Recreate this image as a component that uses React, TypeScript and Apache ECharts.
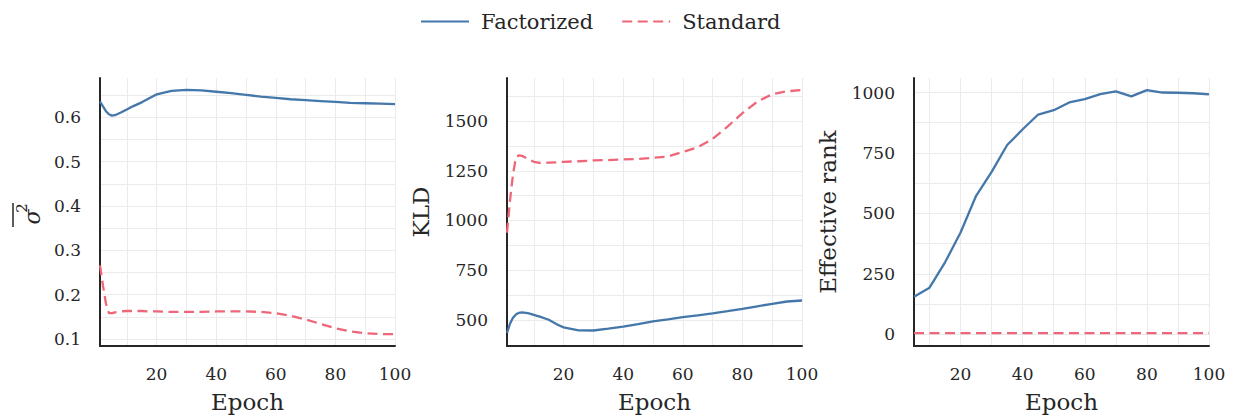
import React, { useEffect, useRef } from "react";
import * as echarts from "echarts";

const EPOCHS = [1, 2, 3, 4, 5, 6, 8, 10, 12, 15, 18, 20, 25, 30, 35, 40, 45, 50, 55, 60, 65, 70, 75, 80, 85, 90, 95, 100];
const SIGMA_FACT = [0.636, 0.625, 0.614, 0.607, 0.604, 0.605, 0.611, 0.618, 0.625, 0.634, 0.645, 0.652, 0.66, 0.662, 0.661, 0.658, 0.655, 0.651, 0.647, 0.644, 0.641, 0.639, 0.637, 0.635, 0.633, 0.632, 0.631, 0.63];
const SIGMA_STD = [0.266, 0.22, 0.18, 0.158, 0.158, 0.16, 0.162, 0.163, 0.163, 0.163, 0.162, 0.162, 0.161, 0.161, 0.161, 0.162, 0.162, 0.162, 0.161, 0.158, 0.152, 0.144, 0.134, 0.124, 0.117, 0.113, 0.111, 0.111];
const KLD_FACT = [434, 480, 510, 527, 535, 537, 533, 525, 516, 500, 475, 462, 447, 446, 455, 465, 478, 492, 502, 513, 522, 532, 543, 555, 568, 580, 592, 597];
const KLD_STD = [938, 1100, 1230, 1318, 1328, 1325, 1310, 1295, 1290, 1291, 1293, 1295, 1298, 1302, 1304, 1307, 1310, 1315, 1322, 1345, 1368, 1410, 1472, 1540, 1598, 1635, 1650, 1657];
const RANK_EPOCHS = [5, 10, 15, 20, 25, 30, 35, 40, 45, 50, 55, 60, 65, 70, 75, 80, 85, 90, 95, 100];
const RANK_FACT = [156, 193, 298, 421, 573, 672, 783, 848, 909, 927, 959, 973, 993, 1005, 984, 1010, 1000, 999, 997, 992];
const RANK_STD = [5, 5, 5, 5, 5, 5, 5, 5, 5, 5, 5, 5, 5, 5, 5, 5, 5, 5, 5, 5];

const X_LABELS = [20, 40, 60, 80, 100];
const X_GRID = [10, 20, 30, 40, 50, 60, 70, 80, 90, 100];
const SIGMA_LABELS = [0.1, 0.2, 0.3, 0.4, 0.5, 0.6];
const SIGMA_GRID = [0.1, 0.15, 0.2, 0.25, 0.3, 0.35, 0.4, 0.45, 0.5, 0.55, 0.6, 0.65];
const KLD_LABELS = [500, 750, 1000, 1250, 1500];
const KLD_GRID = [500, 625, 750, 875, 1000, 1125, 1250, 1375, 1500, 1625];
const RANK_LABELS = [0, 250, 500, 750, 1000];
const RANK_GRID = [0, 125, 250, 375, 500, 625, 750, 875, 1000];

const BLUE = "#4477AA";
const RED = "#EE6677";
const INK = "#262626";
const GRIDC = "#ebebeb";
const FONT = "DejaVu Serif";

function pairs(xs: number[], ys: number[]) {
  return xs.map((x, i) => [x, ys[i]]);
}

const plain = (v: number) => String(v);

function xAxis(gridIndex: number, min: number) {
  return {
    type: "value",
    gridIndex,
    min,
    max: 100,
    axisLine: { show: true, onZero: false, lineStyle: { color: INK, width: 2 } },
    axisTick: { show: false, customValues: X_GRID },
    axisLabel: { customValues: X_LABELS, formatter: plain, fontFamily: FONT, fontSize: 17, color: INK, margin: 19 },
    splitLine: { show: true, lineStyle: { color: GRIDC, width: 1 } },
    name: "Epoch",
    nameLocation: "middle",
    nameGap: 44,
    nameTextStyle: { fontFamily: FONT, fontSize: 23, color: INK },
  };
}

function yAxis(gridIndex: number, min: number, max: number, labels: number[], grid: number[], name: string) {
  return {
    type: "value",
    gridIndex,
    min,
    max,
    axisLine: { show: true, onZero: false, lineStyle: { color: INK, width: 2 } },
    axisTick: { show: false, customValues: grid },
    axisLabel: { customValues: labels, formatter: plain, fontFamily: FONT, fontSize: 17, color: INK, margin: 19 },
    splitLine: { show: true, lineStyle: { color: GRIDC, width: 1 } },
    name,
    nameLocation: "middle",
    nameGap: 75,
    nameRotate: 90,
    nameTextStyle: { fontFamily: FONT, fontSize: 23, color: INK },
  };
}

function line(name: string, data: number[][], idx: number, dashed: boolean) {
  return {
    type: "line",
    name,
    xAxisIndex: idx,
    yAxisIndex: idx,
    data,
    showSymbol: false,
    symbol: "none",
    lineStyle: { color: dashed ? RED : BLUE, width: 2.3, type: dashed ? [10, 5.5] : "solid" },
    itemStyle: { color: dashed ? RED : BLUE },
  };
}

export default function App() {
  const ref = useRef<HTMLDivElement>(null);
  useEffect(() => {
    if (!ref.current) return;
    const chart = echarts.init(ref.current, null, { renderer: "svg" });
    chart.setOption({
      animation: false,
      backgroundColor: "#ffffff",
      legend: {
        data: ["Factorized", "Standard"],
        top: 6,
        left: 415,
        itemWidth: 48,
        itemHeight: 14,
        itemGap: 28,
        selectedMode: false,
        itemStyle: { color: "transparent", borderColor: "transparent", borderWidth: 0 },
        textStyle: { fontFamily: FONT, fontSize: 21, color: INK, padding: [0, 0, 0, 7] },
      },
      grid: [
        { left: 100, top: 78, width: 295, height: 272 },
        { left: 507, top: 78, width: 295, height: 272 },
        { left: 914, top: 78, width: 295, height: 272 },
      ],
      xAxis: [xAxis(0, 1), xAxis(1, 1), xAxis(2, 5)],
      yAxis: [
        yAxis(0, 0.084, 0.689, SIGMA_LABELS, SIGMA_GRID, ""),
        yAxis(1, 368, 1717, KLD_LABELS, KLD_GRID, "KLD"),
        yAxis(2, -48, 1060, RANK_LABELS, RANK_GRID, "Effective rank"),
      ],
      graphic: [
        {
          type: "group",
          x: 30,
          y: 215,
          rotation: Math.PI / 2,
          children: [
            {
              type: "text",
              x: -2,
              y: 2,
              style: { text: "σ", font: "italic 22px " + FONT, fill: INK, align: "center", verticalAlign: "middle" },
            },
            {
              type: "text",
              x: 7,
              y: -8,
              style: { text: "2", font: "15px " + FONT, fill: INK, align: "center", verticalAlign: "middle" },
            },
            {
              type: "line",
              shape: { x1: -12, y1: -17, x2: 12, y2: -17 },
              style: { stroke: INK, lineWidth: 1.5 },
            },
          ],
        },
      ],
      series: [
        line("Factorized", pairs(EPOCHS, SIGMA_FACT), 0, false),
        line("Standard", pairs(EPOCHS, SIGMA_STD), 0, true),
        line("Factorized", pairs(EPOCHS, KLD_FACT), 1, false),
        line("Standard", pairs(EPOCHS, KLD_STD), 1, true),
        line("Factorized", pairs(RANK_EPOCHS, RANK_FACT), 2, false),
        line("Standard", pairs(RANK_EPOCHS, RANK_STD), 2, true),
      ],
    });
    return () => chart.dispose();
  }, []);
  return <div ref={ref} style={{ position: "fixed", left: 0, top: 0, width: 1233, height: 418 }} />;
}
